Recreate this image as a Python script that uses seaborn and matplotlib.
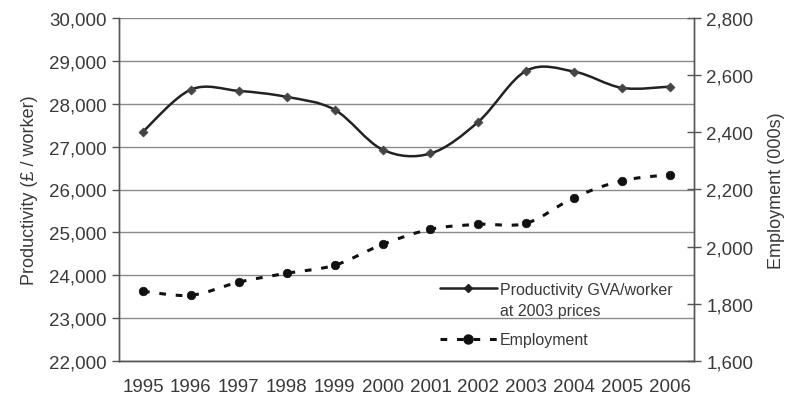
import numpy as np
import pandas as pd
import seaborn as sns
import matplotlib.pyplot as plt
from matplotlib.path import Path
from matplotlib.patches import PathPatch
from matplotlib.lines import Line2D

years = ["1995", "1996", "1997", "1998", "1999", "2000",
         "2001", "2002", "2003", "2004", "2005", "2006"]
productivity = [27350, 28330, 28300, 28160, 27860, 26930,
                26840, 27580, 28770, 28750, 28370, 28400]
employment = [1844, 1830, 1876, 1907, 1935, 2008,
              2061, 2078, 2082, 2172, 2231, 2252]

left_ticks = list(range(22000, 30001, 1000))
right_ticks = list(range(1600, 2801, 200))

TXT = "#3a3a3a"
W, H = 795, 406


def smooth_path(xs, ys):
    """
        builds a bezier path through the points, like a spreadsheet "smoothed line"
    """
    pts = np.column_stack([xs, ys]).astype(float)
    n = len(pts)
    verts = [pts[0]]
    codes = [Path.MOVETO]
    for i in range(n - 1):
        p0 = pts[i - 1] if i > 0 else pts[i]
        p1 = pts[i]
        p2 = pts[i + 1]
        p3 = pts[i + 2] if i + 2 < n else pts[i + 1]
        c1 = p1 + (p2 - p0) / 6.0
        c2 = p2 - (p3 - p1) / 6.0
        verts.extend([c1, c2, p2])
        codes.extend([Path.CURVE4] * 3)
    return Path(verts, codes)


sns.set_style("white")
plt.rcParams["font.family"] = ["Liberation Sans", "DejaVu Sans"]

df = pd.DataFrame({"pos": np.arange(len(years)), "year": years,
                   "productivity": productivity, "employment": employment})

fig = plt.figure(figsize=(W / 100, H / 100), dpi=100)
ax = fig.add_axes([119 / W, 1 - 362 / H, (694 - 119) / W, (362 - 19) / H])
ax2 = ax.twinx()

# productivity: smoothed solid line with small diamonds
ax.add_patch(PathPatch(smooth_path(df["pos"], df["productivity"]), fill=False,
                       edgecolor="#222222", lw=1.8, zorder=3))
sns.scatterplot(data=df, x="pos", y="productivity", ax=ax, marker="D", s=22,
                color="#444444", edgecolor="#444444", zorder=4, legend=False)

# employment: smoothed dashed line with dots
ax2.add_patch(PathPatch(smooth_path(df["pos"], df["employment"]), fill=False,
                        edgecolor="#111111", lw=2.2, linestyle=(0, (2.2, 3.2)),
                        zorder=3))
sns.scatterplot(data=df, x="pos", y="employment", ax=ax2, marker="o", s=38,
                color="#111111", edgecolor="#111111", zorder=4, legend=False)

ax.set_xlim(-0.5, len(years) - 0.5)
ax.set_ylim(22000, 30000)
ax2.set_ylim(1600, 2800)

ax.set_yticks(left_ticks)
ax.set_yticklabels([f"{v:,}" for v in left_ticks])
ax2.set_yticks(right_ticks)
ax2.set_yticklabels([f"{v:,}" for v in right_ticks])

ax.set_xticks(np.arange(len(years)))
ax.set_xticklabels(years)
ax.set_xticks(np.arange(len(years) + 1) - 0.5, minor=True)
ax.tick_params(axis="x", which="major", length=0, labelsize=13.5, colors=TXT, pad=12)
ax.tick_params(axis="x", which="minor", length=5, width=1, color="#555555")
ax.tick_params(axis="y", length=5, width=1, color="#555555", labelsize=13.5,
               labelcolor=TXT, pad=4)
ax2.tick_params(axis="y", length=10, width=1, color="#555555", direction="inout",
                labelsize=13.5, labelcolor=TXT, pad=4)

ax.yaxis.grid(True, color="#8a8a8a", lw=1)
ax.set_axisbelow(True)
for a in (ax, ax2):
    a.spines["top"].set_visible(False)
    for s in ("left", "right", "bottom"):
        a.spines[s].set_color("#555555")
        a.spines[s].set_linewidth(1)

ax.set_xlabel("")
ax.set_ylabel("Productivity (£ / worker)", fontsize=13, color=TXT, labelpad=8)
ax2.set_ylabel("Employment (000s)", fontsize=13, color=TXT, rotation=90,
               labelpad=10)

handles = [
    Line2D([], [], color="#222222", lw=1.8, marker="D", markersize=4.5),
    Line2D([], [], color="#111111", lw=2.2, linestyle=(0, (2.2, 3.2)),
           marker="o", markersize=6.5),
]
leg = ax.legend(handles, ["Productivity GVA/worker", "Employment"],
                loc="upper left", bbox_to_anchor=(440 / W, 1 - 283 / H),
                bbox_transform=fig.transFigure, frameon=False,
                fontsize=11.5, handlelength=3.55, handletextpad=0.2,
                labelspacing=2.2, borderpad=0, borderaxespad=0)
for t in leg.get_texts():
    t.set_color(TXT)
fig.text(500 / W, 1 - 312 / H, "at 2003 prices", fontsize=11.5, color=TXT,
         ha="left", va="center")

fig.savefig("out.png", dpi=100, facecolor="white")
